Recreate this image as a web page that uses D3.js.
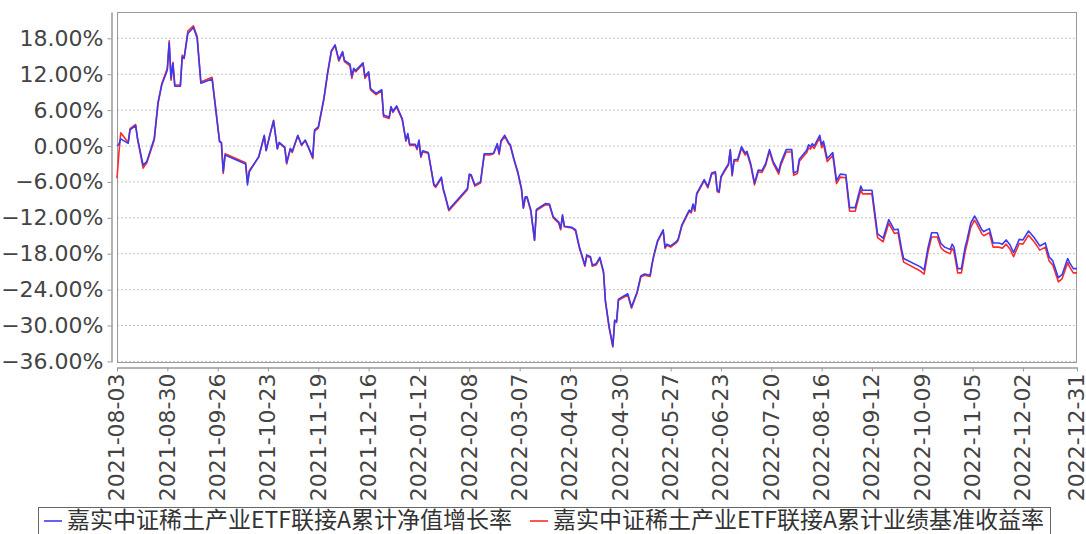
<!DOCTYPE html>
<html>
<head>
<meta charset="utf-8">
<script src="https://cdn.jsdelivr.net/npm/d3@7"></script>
<style>
  body { margin: 0; background: #fff; }
  svg { display: block; }
</style>
</head>
<body>
<div id="chart"></div>
<script>
// trading days (gaps are holidays)
const dates = [
  "2021-08-03","2021-08-04","2021-08-05","2021-08-09","2021-08-10","2021-08-13","2021-08-14","2021-08-17","2021-08-19","2021-08-23","2021-08-25","2021-08-27","2021-08-30","2021-08-31",
  "2021-09-01","2021-09-02","2021-09-03","2021-09-06","2021-09-07","2021-09-08","2021-09-10","2021-09-13","2021-09-15","2021-09-17","2021-09-23","2021-09-27","2021-09-28","2021-09-29","2021-09-30",
  "2021-10-11","2021-10-12","2021-10-13","2021-10-18","2021-10-21","2021-10-22","2021-10-24","2021-10-26","2021-10-28","2021-10-29",
  "2021-11-01","2021-11-02","2021-11-04","2021-11-05","2021-11-08","2021-11-10","2021-11-12","2021-11-14","2021-11-16","2021-11-17","2021-11-19","2021-11-22","2021-11-24","2021-11-26","2021-11-28","2021-11-30",
  "2021-12-02","2021-12-03","2021-12-06","2021-12-07","2021-12-08","2021-12-09","2021-12-13","2021-12-14","2021-12-16","2021-12-17","2021-12-20","2021-12-23","2021-12-24","2021-12-27","2021-12-28","2021-12-29","2021-12-31",
  "2022-01-03","2022-01-05","2022-01-06","2022-01-07","2022-01-10","2022-01-11","2022-01-12","2022-01-13","2022-01-14","2022-01-17","2022-01-20","2022-01-21","2022-01-24","2022-01-25","2022-01-26","2022-01-28",
  "2022-02-07","2022-02-08","2022-02-09","2022-02-11","2022-02-14","2022-02-16","2022-02-19","2022-02-21","2022-02-23","2022-02-24","2022-02-25","2022-02-27",
  "2022-03-01","2022-03-02","2022-03-04","2022-03-06","2022-03-08","2022-03-09","2022-03-10","2022-03-11","2022-03-13","2022-03-15","2022-03-16","2022-03-21","2022-03-23","2022-03-25","2022-03-28","2022-03-29","2022-03-30","2022-03-31",
  "2022-04-04","2022-04-06","2022-04-08","2022-04-11","2022-04-12","2022-04-14","2022-04-15","2022-04-17","2022-04-19","2022-04-21","2022-04-22","2022-04-24","2022-04-26","2022-04-27","2022-04-28","2022-04-29",
  "2022-05-04","2022-05-06","2022-05-09","2022-05-11","2022-05-13","2022-05-16","2022-05-17","2022-05-18","2022-05-20","2022-05-23","2022-05-24","2022-05-25","2022-05-27","2022-05-30","2022-05-31",
  "2022-06-02","2022-06-05","2022-06-06","2022-06-07","2022-06-08","2022-06-09","2022-06-10","2022-06-13","2022-06-14","2022-06-16","2022-06-18","2022-06-20","2022-06-21","2022-06-22","2022-06-23","2022-06-25","2022-06-27","2022-06-28","2022-06-29","2022-06-30",
  "2022-07-02","2022-07-04","2022-07-06","2022-07-07","2022-07-09","2022-07-11","2022-07-13","2022-07-15","2022-07-17","2022-07-19","2022-07-21","2022-07-24","2022-07-25","2022-07-28","2022-07-31",
  "2022-08-01","2022-08-03","2022-08-04","2022-08-08","2022-08-09","2022-08-10","2022-08-11","2022-08-12","2022-08-15","2022-08-16","2022-08-17","2022-08-19","2022-08-22","2022-08-24","2022-08-26","2022-08-29","2022-08-31",
  "2022-09-03","2022-09-06","2022-09-07","2022-09-12","2022-09-15","2022-09-18","2022-09-21","2022-09-24","2022-09-26","2022-09-28","2022-09-29",
  "2022-10-08","2022-10-10","2022-10-12","2022-10-14","2022-10-17","2022-10-19","2022-10-21","2022-10-24","2022-10-25","2022-10-26","2022-10-28","2022-10-30",
  "2022-11-01","2022-11-02","2022-11-04","2022-11-06","2022-11-07","2022-11-10","2022-11-11","2022-11-14","2022-11-16","2022-11-19","2022-11-21","2022-11-23","2022-11-25","2022-11-27","2022-11-30",
  "2022-12-02","2022-12-05","2022-12-08","2022-12-10","2022-12-11","2022-12-14","2022-12-16","2022-12-18","2022-12-21","2022-12-23","2022-12-26","2022-12-27","2022-12-29","2022-12-31"
];

// 累计净值增长率 (%)
const navGrowth = [
  0.0, 0.3, 1.2, 0.45, 2.7, 3.4, 1.3, -3.2, -2.6, 1.3, 7.3, 10.2, 12.7, 17.2,
  11.3, 13.8, 10.0, 10.0, 14.9, 14.7, 18.8, 19.8, 18.0, 10.5, 11.2, 0.7, 0.6, -4.3, -1.5,
  -3.0, -6.5, -4.3, -1.8, 1.8, -0.7, 1.8, 4.2, -0.5, 0.6,
  -0.2, -2.8, -0.4, -0.9, 1.8, 0.2, 1.0, -0.4, -1.9, 2.7, 3.2, 8.0, 12.3, 15.9, 16.9, 14.4,
  15.8, 14.3, 13.7, 11.6, 13.0, 12.6, 13.9, 11.6, 12.4, 9.6, 8.8, 9.4, 5.2, 4.8, 6.6, 5.8, 6.7,
  4.6, 1.0, 2.1, 0.3, 0.3, -0.4, 1.0, -1.7, -0.8, -1.1, -6.4, -6.7, -5.2, -7.1, -8.2, -10.6,
  -7.1, -4.7, -4.8, -6.5, -6.0, -1.3, -1.3, -1.2, 0.4, -1.2, 0.9, 1.8,
  0.6, 0.2, -2.2, -4.3, -7.1, -10.3, -8.5, -8.5, -10.7, -15.7, -10.6, -9.6, -9.7, -11.8, -12.7, -13.8, -11.5, -13.4,
  -13.6, -14.0, -16.8, -19.9, -18.2, -18.5, -19.9, -19.7, -18.6, -21.0, -25.8, -30.2, -33.4, -29.1, -29.3, -25.6,
  -24.7, -26.9, -24.4, -21.7, -21.4, -21.6, -19.7, -18.2, -15.8, -14.0, -16.9, -16.4, -16.7, -16.0, -15.6,
  -13.2, -11.3, -10.7, -11.0, -9.7, -10.7, -7.9, -6.2, -5.6, -6.8, -4.5, -4.3, -7.4, -7.6, -5.1, -4.0, -3.0, -0.6, -4.8, -2.3,
  -2.2, -0.1, -1.2, -0.9, -3.0, -6.2, -4.0, -4.1, -2.9, -0.6, -2.6, -4.3, -2.9, -0.6, -0.6,
  -4.5, -4.2, -2.2, -0.7, 0.2, -0.1, 0.4, 0.0, 1.8, 0.2, 0.8, -2.1, -1.1, -5.8, -4.7, -4.8, -10.3,
  -10.3, -6.7, -7.4, -7.4, -14.7, -15.4, -12.3, -14.0, -13.9, -17.4, -18.8,
  -20.2, -20.7, -17.1, -14.5, -14.5, -16.3, -16.9, -17.3, -16.4, -16.9, -20.5, -20.5,
  -16.9, -15.7, -12.9, -11.7, -12.2, -14.0, -14.3, -13.8, -16.2, -16.2, -16.4, -15.7, -16.5, -17.8, -15.6,
  -15.7, -14.2, -15.3, -16.2, -16.7, -16.2, -18.5, -19.2, -22.0, -21.5, -18.8, -19.5, -20.5, -20.5
];

// 累计业绩基准收益率 (%)
const benchmark = [
  -5.4, -1.3, 2.2, 0.6, 2.9, 3.6, 1.2, -3.7, -2.8, 1.0, 7.0, 10.4, 13.0, 17.6,
  11.0, 14.0, 10.2, 10.2, 15.2, 14.6, 19.2, 20.1, 18.3, 10.7, 11.5, 0.9, 0.5, -4.6, -1.3,
  -2.8, -6.0, -4.1, -1.9, 1.6, -0.8, 1.9, 4.3, -0.4, 0.5,
  -0.3, -3.0, -0.5, -1.1, 1.7, 0.1, 0.9, -0.5, -2.1, 2.5, 3.0, 7.8, 12.1, 15.8, 16.8, 14.2,
  15.6, 14.1, 13.4, 11.3, 12.8, 12.4, 13.7, 11.3, 12.2, 9.4, 8.6, 9.2, 4.9, 4.6, 6.4, 5.6, 6.5,
  4.4, 0.8, 1.9, 0.1, 0.1, -0.6, 0.8, -1.9, -1.0, -1.2, -6.6, -6.9, -5.4, -7.3, -8.4, -10.8,
  -7.3, -4.9, -5.0, -6.7, -6.2, -1.5, -1.5, -1.3, 0.2, -1.4, 0.7, 1.6,
  0.4, 0.0, -2.4, -4.5, -7.3, -10.4, -8.7, -8.7, -10.9, -15.8, -10.8, -9.8, -9.9, -12.0, -12.9, -14.0, -11.7, -13.5,
  -13.7, -14.2, -17.0, -20.1, -18.4, -18.7, -20.1, -19.9, -18.8, -21.2, -26.0, -30.4, -33.6, -29.2, -29.5, -25.8,
  -24.9, -27.1, -24.6, -21.9, -21.6, -21.8, -19.9, -18.4, -16.0, -14.2, -17.1, -16.6, -16.9, -16.2, -15.8,
  -13.4, -11.5, -10.9, -11.2, -9.9, -10.9, -8.1, -6.4, -5.8, -7.0, -4.7, -4.5, -7.6, -7.8, -5.3, -4.2, -3.2, -0.8, -5.0, -2.5,
  -2.5, -0.4, -1.5, -1.2, -3.3, -6.5, -4.3, -4.4, -3.2, -0.9, -2.9, -4.7, -3.3, -1.0, -1.0,
  -4.9, -4.6, -2.6, -1.1, -0.3, -0.5, 0.0, -0.4, 1.4, -0.3, 0.3, -2.6, -1.6, -6.3, -5.2, -5.3, -10.9,
  -10.9, -7.3, -8.0, -8.0, -15.3, -16.0, -12.9, -14.6, -14.5, -18.0, -19.4,
  -20.9, -21.4, -17.8, -15.2, -15.2, -17.0, -17.6, -18.0, -17.1, -17.6, -21.2, -21.2,
  -17.6, -16.4, -13.6, -12.4, -12.9, -14.7, -15.0, -14.5, -16.9, -16.9, -17.1, -16.4, -17.2, -18.5, -16.3,
  -16.4, -14.9, -16.0, -16.9, -17.4, -16.9, -19.2, -19.9, -22.7, -22.2, -19.5, -20.2, -21.2, -21.2
];

const tickDates = [
  "2021-08-03","2021-08-30","2021-09-26","2021-10-23","2021-11-19","2021-12-16",
  "2022-01-12","2022-02-08","2022-03-07","2022-04-03","2022-04-30","2022-05-27",
  "2022-06-23","2022-07-20","2022-08-16","2022-09-12","2022-10-09","2022-11-05",
  "2022-12-02","2022-12-31"
];
const yTicks = [-36, -30, -24, -18, -12, -6, 0, 6, 12, 18];
const seriesNames = ["嘉实中证稀土产业ETF联接A累计净值增长率", "嘉实中证稀土产业ETF联接A累计业绩基准收益率"];
const seriesColors = ["#3a3af2", "#ff2a2a"];

const W = 1086, H = 534;
const plot = {left: 117, top: 12, right: 1077, bottom: 362};
const parse = d3.utcParse("%Y-%m-%d");

const x = d3.scaleUtc()
  .domain([parse(tickDates[0]), parse(tickDates[tickDates.length - 1])])
  .range([plot.left, plot.right]);

const y = d3.scaleLinear()
  .domain([-36.1, 22.4])
  .range([plot.bottom, plot.top]);

const svg = d3.select("#chart").append("svg")
  .attr("width", W)
  .attr("height", H)
  .style("font-family", "'DejaVu Sans', sans-serif");

// grid
svg.append("g")
  .selectAll("line")
  .data(yTicks)
  .enter().append("line")
  .attr("x1", plot.left).attr("x2", plot.right)
  .attr("y1", d => y(d)).attr("y2", d => y(d))
  .attr("stroke", "#c4c4c4")
  .attr("stroke-width", 1)
  .attr("stroke-dasharray", "2,2");

// plot border
svg.append("rect")
  .attr("x", plot.left + 0.5).attr("y", plot.top + 0.5)
  .attr("width", plot.right - plot.left - 1)
  .attr("height", plot.bottom - plot.top)
  .attr("fill", "none")
  .attr("stroke", "#999");

// y axis
const yAxis = svg.append("g")
  .attr("transform", "translate(111.5,0)")
  .call(d3.axisLeft(y).tickValues(yTicks).tickSize(4).tickSizeOuter(0).tickPadding(4)
    .tickFormat(d => d3.format(".2f")(d) + "%"));
yAxis.select(".domain").attr("stroke", "#999").attr("stroke-width", 1.5);
yAxis.selectAll(".tick line").attr("stroke", "#999");
yAxis.selectAll("text")
  .attr("fill", "#444")
  .style("font-size", "22px")
  .style("font-family", "'DejaVu Sans', sans-serif");

// x axis
const xAxis = svg.append("g")
  .attr("transform", "translate(0,367.5)")
  .call(d3.axisBottom(x).tickValues(tickDates.map(parse)).tickSize(4).tickSizeOuter(0)
    .tickFormat(d3.utcFormat("%Y-%m-%d")));
xAxis.select(".domain").attr("stroke", "#999").attr("stroke-width", 1.5);
xAxis.selectAll(".tick line").attr("stroke", "#999");
xAxis.selectAll("text")
  .attr("fill", "#444")
  .style("font-size", "22px")
  .style("font-family", "'DejaVu Sans', sans-serif")
  .attr("text-anchor", "end")
  .attr("transform", "rotate(-90)")
  .attr("x", -6)
  .attr("y", -1)
  .attr("dy", "0.36em");

// lines
const rows = dates.map((d, i) => ({date: parse(d), nav: navGrowth[i], bench: benchmark[i]}));

const lineBench = d3.line().x(d => x(d.date)).y(d => y(d.bench));
const lineNav = d3.line().x(d => x(d.date)).y(d => y(d.nav));

svg.append("path")
  .datum(rows)
  .attr("d", lineBench)
  .attr("fill", "none")
  .attr("stroke", seriesColors[1])
  .attr("stroke-width", 1.6)
  .attr("stroke-linejoin", "round");

svg.append("path")
  .datum(rows)
  .attr("d", lineNav)
  .attr("fill", "none")
  .attr("stroke", seriesColors[0])
  .attr("stroke-width", 1.6)
  .attr("stroke-linejoin", "round");

// legend
const legend = svg.append("g");
legend.append("rect")
  .attr("x", 38.5).attr("y", 507.5)
  .attr("width", 1012).attr("height", 40)
  .attr("fill", "none")
  .attr("stroke", "#666");

const legendX = [44, 530];
seriesNames.forEach(function(name, i) {
  legend.append("line")
    .attr("x1", legendX[i]).attr("x2", legendX[i] + 18)
    .attr("y1", 521).attr("y2", 521)
    .attr("stroke", seriesColors[i])
    .attr("stroke-width", 1.6);
  legend.append("text")
    .attr("x", legendX[i] + 23)
    .attr("y", 520)
    .attr("dy", "0.36em")
    .attr("fill", "#333")
    .style("font-size", "23px")
    .style("font-family", "'Noto Sans CJK SC', sans-serif")
    .text(name);
});
</script>
</body>
</html>
